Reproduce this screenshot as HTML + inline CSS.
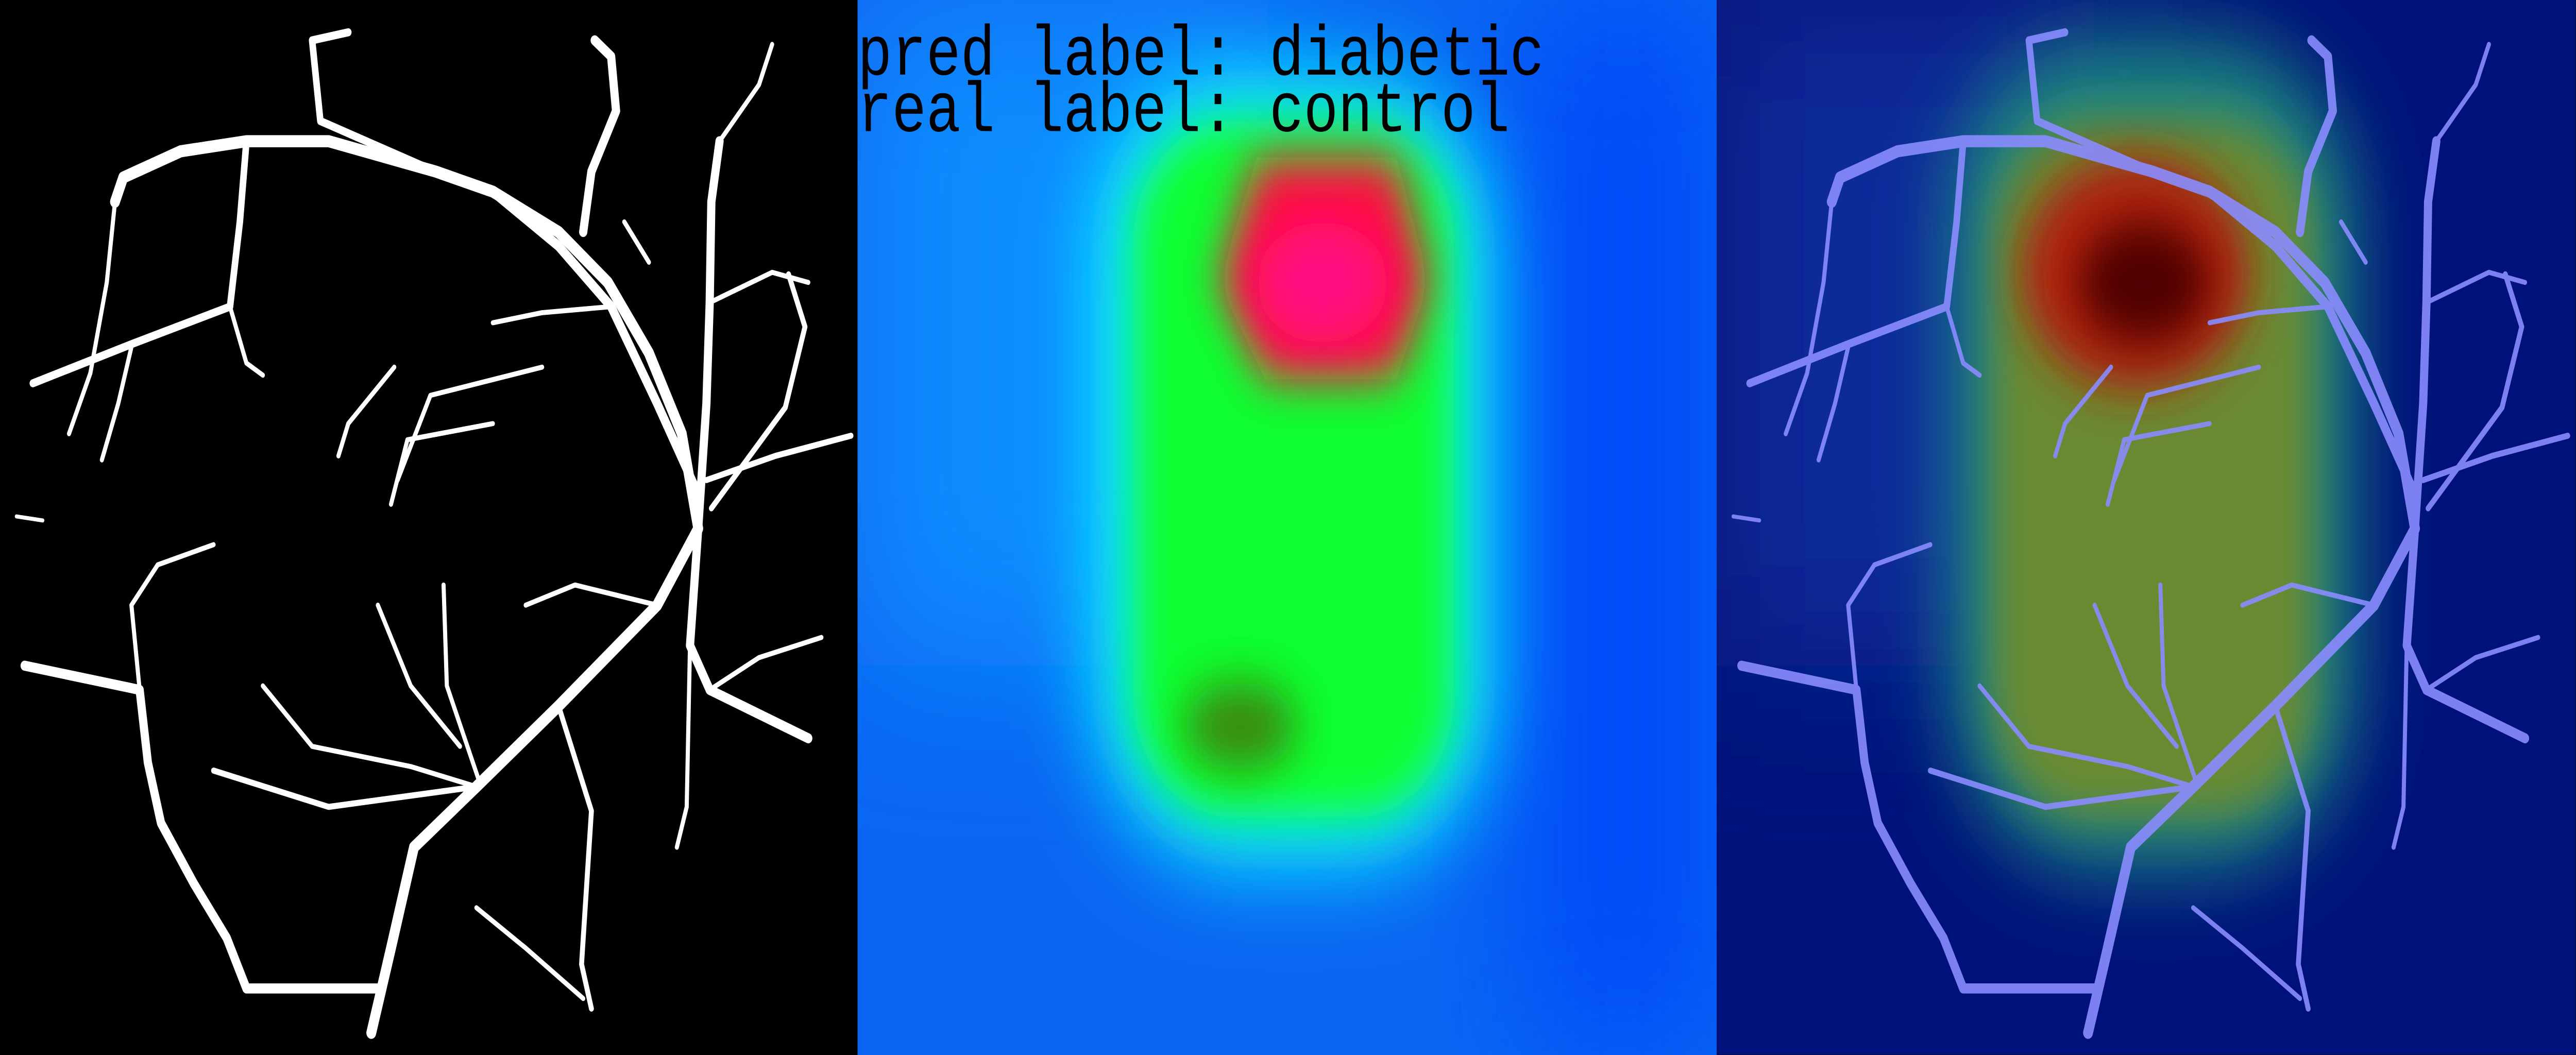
<!DOCTYPE html>
<html><head><meta charset="utf-8"><style>
html,body{margin:0;padding:0;background:#000;width:100%;height:100%;overflow:hidden;}
svg{display:block;position:absolute;left:0;top:0;width:100vw;height:100vh;}
</style></head><body>
<svg viewBox="0 0 6144 2048" preserveAspectRatio="none" xmlns="http://www.w3.org/2000/svg">
<defs>
<filter id="b1" x="-50%" y="-50%" width="200%" height="200%"><feGaussianBlur stdDeviation="22"/></filter>
<filter id="b2" x="-50%" y="-50%" width="200%" height="200%"><feGaussianBlur stdDeviation="12"/></filter>
<filter id="b3" x="-50%" y="-50%" width="200%" height="200%"><feGaussianBlur stdDeviation="40"/></filter>
<clipPath id="c2"><rect x="522" y="0" width="523" height="523"/></clipPath>
<clipPath id="c3"><rect x="1045" y="0" width="522.9" height="522.9"/></clipPath>
<g id="vessels" fill="none" stroke-linecap="round" stroke-linejoin="round">
<path stroke-width="6" d="M425,262 L415,215 L395,175 L370,140 L340,115 L300,95 L265,85 L200,70 L150,70 L110,75 L75,88 L70,100"/>
<path stroke-width="5" d="M300,95 L340,122 L372,152 L400,200 L425,245"/>
<path stroke-width="4" d="M265,85 L195,60 L190,20 L212,16"/>
<path stroke-width="5" d="M425,262 L430,200 L432,150 L433,100 L438,70"/>
<path stroke-width="5" d="M355,115 L360,85 L375,55 L372,28 L362,20"/>
<path stroke-width="6" d="M425,262 L400,300 L340,350 L290,390 L252,420 L238,470 L226,512"/>
<path stroke-width="5" d="M232,490 L150,490 L138,465 L118,438 L98,408 L90,378 L85,342 L15,330"/>
<path stroke-width="5" d="M425,262 L420,320 L432,342 L492,366"/>
<path stroke-width="3" d="M430,238 L472,226 L518,216"/>
<path stroke-width="3" d="M433,252 L478,202 L490,162 L480,136"/>
<path stroke-width="4" d="M150,70 L146,110 L140,152 L82,170 L20,190"/>
<path stroke-width="2.5" d="M70,100 L65,140 L55,185 L42,215"/>
<path stroke-width="2.5" d="M80,172 L72,200 L62,228"/>
<path stroke-width="3" d="M290,390 L200,400 L130,382"/>
<path stroke-width="3" d="M340,350 L360,402 L354,478 L360,500"/>
<path stroke-width="2.5" d="M330,182 L262,196 L242,238"/>
<path stroke-width="2.5" d="M300,210 L248,218 L238,250"/>
<path stroke-width="2.5" d="M240,182 L212,210 L206,226"/>
<path stroke-width="2.5" d="M85,342 L80,300 L96,280 L130,270"/>
<path stroke-width="2.5" d="M420,320 L418,400 L412,420"/>
<path stroke-width="2.5" d="M432,342 L462,326 L500,316"/>
<path stroke-width="2.5" d="M438,70 L462,42 L470,22"/>
<path stroke-width="2.5" d="M432,150 L470,135 L492,140"/>
<path stroke-width="2.5" d="M372,152 L330,155 L300,160"/>
<path stroke-width="2.5" d="M160,340 L190,370 L250,380 L290,390"/>
<path stroke-width="2.5" d="M230,300 L250,340 L280,370"/>
<path stroke-width="2.5" d="M270,290 L272,340 L292,388"/>
<path stroke-width="2.5" d="M290,450 L320,470 L355,495"/>
<path stroke-width="2.5" d="M395,130 L380,110"/>
<path stroke-width="2.5" d="M140,152 L150,180 L160,186"/>
<path stroke-width="2" d="M10,256 L26,258"/>
<path stroke-width="2.5" d="M400,300 L350,290 L320,300"/>
</g>
</defs>
<g transform="scale(3.9183 3.9159)">
<rect x="0" y="0" width="522" height="523" fill="#000"/>
<use href="#vessels" stroke="#fff"/>
<g clip-path="url(#c2)">
<rect x="522" y="0" width="523" height="523" fill="#0a66f2"/>
<rect x="522" y="0" width="250" height="330" fill="#0a8cff" filter="url(#b3)"/>
<rect x="930" y="0" width="115" height="523" fill="#0548fa" filter="url(#b3)"/>
<rect x="665" y="35" width="245" height="395" rx="90" fill="#10f0ff" filter="url(#b1)"/>
<rect x="690" y="60" width="195" height="345" rx="60" fill="#10ff30" filter="url(#b2)"/>
<ellipse cx="755" cy="360" rx="35" ry="22" fill="#3a8a10" filter="url(#b2)"/>
<polygon points="765,78 850,78 870,140 850,188 770,188 742,140" fill="#ff1040" filter="url(#b2)"/>
<ellipse cx="805" cy="140" rx="40" ry="30" fill="#ff0a80" filter="url(#b2)"/>
</g>
<text x="522" y="37" font-family="'Liberation Mono', monospace" font-size="35" fill="#000" textLength="418">pred label: diabetic</text>
<text x="522" y="65" font-family="'Liberation Mono', monospace" font-size="35" fill="#000" textLength="397">real label: control</text>
<g clip-path="url(#c3)">
<rect x="1045" y="0" width="522.9" height="522.9" fill="#00127a"/>
<rect x="1045" y="0" width="230" height="330" fill="#0a2a9a" filter="url(#b3)"/>
<rect x="1188" y="20" width="245" height="410" rx="90" fill="#1e8a80" filter="url(#b1)"/>
<rect x="1213" y="60" width="195" height="345" rx="60" fill="#6a8a30" filter="url(#b2)"/>
<ellipse cx="1300" cy="135" rx="70" ry="58" fill="#b02010" filter="url(#b2)"/>
<ellipse cx="1305" cy="140" rx="40" ry="30" fill="#500000" filter="url(#b2)"/>
<use href="#vessels" transform="translate(1045,0)" stroke="#8a8cff" opacity="0.9"/>
</g>
</g>
</svg>
</body></html>
